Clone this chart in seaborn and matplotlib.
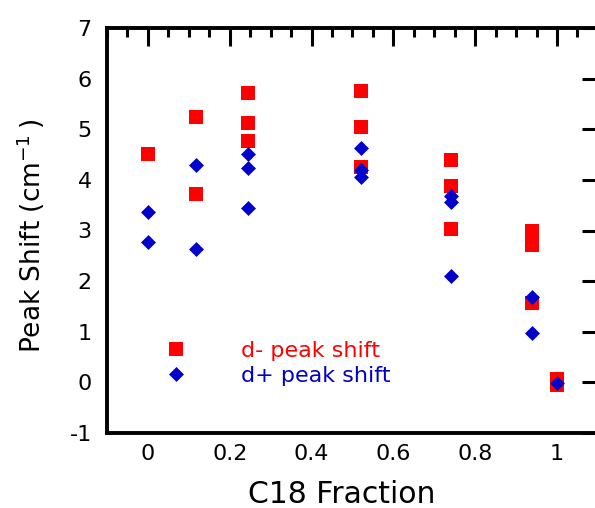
import matplotlib
matplotlib.use("Agg")
import matplotlib.pyplot as plt
import matplotlib.ticker as mticker
import numpy as np
import pandas as pd
import seaborn as sns

# C18 fraction of each sample and the measured peak shifts (cm^-1)
dminus_x = [0.0, 0.117, 0.117, 0.245, 0.245, 0.245, 0.522, 0.522, 0.522,
            0.742, 0.742, 0.742, 0.94, 0.94, 0.94, 1.0, 1.0]
dminus_y = [4.52, 5.25, 3.72, 5.71, 5.12, 4.76, 5.76, 5.04, 4.26,
            4.39, 3.88, 3.02, 2.99, 2.72, 1.56, 0.07, -0.05]

dplus_x = [0.0, 0.0, 0.117, 0.117, 0.245, 0.245, 0.245, 0.522, 0.522, 0.522,
           0.742, 0.742, 0.742, 0.94, 0.94, 1.0]
dplus_y = [3.36, 2.77, 4.30, 2.64, 4.51, 4.23, 3.44, 4.63, 4.20, 4.06,
           3.69, 3.56, 2.10, 1.68, 0.98, -0.02]

series_labels = ["d- peak shift", "d+ peak shift"]
series_colors = ["#FF0000", "#0000CC"]

x_ticks = [0, 0.2, 0.4, 0.6, 0.8, 1]
x_tick_labels = ["0", "0.2", "0.4", "0.6", "0.8", "1"]
y_ticks = [-1, 0, 1, 2, 3, 4, 5, 6, 7]

sns.set_theme(style="white")
plt.rcParams["font.family"] = ["DejaVu Sans"]

fig = plt.figure(figsize=(5.95, 5.08), dpi=100)
ax = fig.add_axes([107 / 595, 75 / 508, 493 / 595, 405 / 508])

dm = pd.DataFrame({"x": dminus_x, "y": dminus_y})
dp = pd.DataFrame({"x": dplus_x, "y": dplus_y})

sns.scatterplot(data=dm, x="x", y="y", ax=ax, marker="s", s=98,
                color=series_colors[0], linewidth=0, label=series_labels[0],
                zorder=3)
sns.scatterplot(data=dp, x="x", y="y", ax=ax, marker="D", s=58,
                color=series_colors[1], linewidth=0, label=series_labels[1],
                zorder=4)

ax.set_xlim(-0.1, 1.105)
ax.set_ylim(-1, 7)
ax.set_xticks(x_ticks)
ax.set_xticklabels(x_tick_labels)
ax.xaxis.set_minor_locator(mticker.MultipleLocator(0.05))
ax.set_yticks(y_ticks)
ax.set_yticklabels([str(v) for v in y_ticks])

for side in ["left", "right", "top", "bottom"]:
    ax.spines[side].set_visible(True)
    ax.spines[side].set_color("black")
    ax.spines[side].set_linewidth(2.8)

ax.tick_params(axis="both", which="both", direction="in", color="black",
               top=True, right=True, width=2.2, labelsize=16,
               labelcolor="black")
ax.tick_params(axis="both", which="major", length=13)
ax.tick_params(axis="x", which="minor", length=6.5)
ax.tick_params(axis="y", which="major", pad=11)
ax.tick_params(axis="x", which="major", pad=8)

ax.set_xlabel("C18 Fraction", fontsize=21.5, color="black")
ax.xaxis.set_label_coords(0.4766, -0.115)
ax.set_ylabel("Peak Shift (cm$^{-1}$\u2009)", fontsize=19, color="black")
ax.yaxis.set_label_coords(-0.122, 0.488)

ax.legend(loc="upper left", bbox_to_anchor=(0.118, 0.227), frameon=False,
          fontsize=16, handlelength=1.0, handletextpad=2.4,
          labelspacing=0.21, borderpad=0, borderaxespad=0,
          scatteryoffsets=[0.5], labelcolor=series_colors)

fig.savefig("out.png", dpi=100, facecolor="white")
